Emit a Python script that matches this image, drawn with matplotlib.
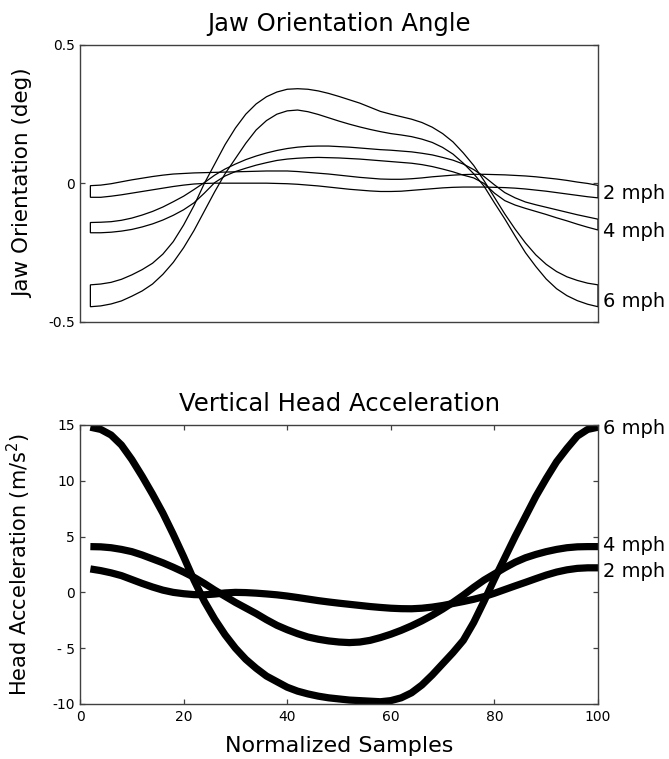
import numpy as np
from matplotlib import pyplot as plt

plt.rcParams['axes.unicode_minus'] = False
plt.rcParams['font.family'] = 'DejaVu Sans'

samples = list(range(2, 101, 2))

# jaw orientation bands (deg): upper / lower edge for each speed
jaw_2_hi = [-0.008, -0.006, -0.001, 0.006, 0.013, 0.019, 0.025, 0.030, 0.034, 0.036,
            0.038, 0.039, 0.040, 0.041, 0.042, 0.043, 0.044, 0.045, 0.045, 0.045,
            0.043, 0.040, 0.037, 0.034, 0.030, 0.026, 0.022, 0.019, 0.016, 0.015,
            0.015, 0.017, 0.020, 0.024, 0.027, 0.030, 0.032, 0.033, 0.033, 0.032,
            0.031, 0.029, 0.027, 0.024, 0.020, 0.016, 0.011, 0.005, 0.000, -0.007]
jaw_2_lo = [-0.050, -0.050, -0.046, -0.041, -0.035, -0.029, -0.023, -0.017, -0.011, -0.006,
            -0.002, 0.000, 0.001, 0.001, 0.001, 0.001, 0.001, 0.001, 0.000, -0.001,
            -0.003, -0.006, -0.009, -0.013, -0.017, -0.021, -0.024, -0.027, -0.029, -0.029,
            -0.028, -0.025, -0.022, -0.019, -0.016, -0.014, -0.013, -0.013, -0.013, -0.014,
            -0.015, -0.017, -0.020, -0.024, -0.028, -0.033, -0.038, -0.043, -0.048, -0.052]
jaw_4_hi = [-0.141, -0.140, -0.138, -0.133, -0.125, -0.114, -0.101, -0.085, -0.066, -0.046,
            -0.022, 0.003, 0.030, 0.052, 0.070, 0.086, 0.099, 0.110, 0.119, 0.126,
            0.131, 0.134, 0.135, 0.135, 0.133, 0.131, 0.128, 0.125, 0.122, 0.120,
            0.117, 0.114, 0.109, 0.103, 0.094, 0.084, 0.070, 0.050, 0.025, -0.005,
            -0.033, -0.052, -0.067, -0.077, -0.086, -0.095, -0.104, -0.113, -0.121, -0.129]
jaw_4_lo = [-0.178, -0.178, -0.176, -0.172, -0.166, -0.157, -0.146, -0.132, -0.115, -0.095,
            -0.070, -0.035, 0.003, 0.027, 0.043, 0.055, 0.066, 0.075, 0.083, 0.088,
            0.091, 0.093, 0.094, 0.093, 0.092, 0.090, 0.088, 0.085, 0.082, 0.079,
            0.076, 0.073, 0.068, 0.061, 0.052, 0.042, 0.030, 0.020, 0.000, -0.035,
            -0.062, -0.078, -0.090, -0.101, -0.112, -0.124, -0.135, -0.147, -0.158, -0.168]
jaw_6_hi = [-0.366, -0.363, -0.357, -0.346, -0.330, -0.311, -0.288, -0.255, -0.210, -0.150,
            -0.080, 0.000, 0.070, 0.140, 0.200, 0.250, 0.287, 0.313, 0.330, 0.340,
            0.342, 0.340, 0.334, 0.325, 0.314, 0.302, 0.290, 0.275, 0.260, 0.250,
            0.241, 0.232, 0.220, 0.203, 0.180, 0.150, 0.110, 0.065, 0.010, -0.050,
            -0.110, -0.165, -0.215, -0.258, -0.292, -0.318, -0.337, -0.350, -0.360, -0.366]
jaw_6_lo = [-0.445, -0.442, -0.435, -0.424, -0.407, -0.388, -0.363, -0.328, -0.285, -0.232,
            -0.170, -0.100, -0.030, 0.035, 0.090, 0.145, 0.193, 0.227, 0.250, 0.262,
            0.265, 0.259, 0.249, 0.237, 0.225, 0.214, 0.204, 0.195, 0.187, 0.180,
            0.175, 0.169, 0.160, 0.148, 0.130, 0.106, 0.073, 0.035, -0.010, -0.070,
            -0.128, -0.190, -0.250, -0.300, -0.345, -0.380, -0.405, -0.423, -0.436, -0.445]

# vertical head acceleration (m/s^2)
acc_2 = [2.1, 1.95, 1.75, 1.5, 1.15, 0.8, 0.48, 0.2, 0.0, -0.12,
         -0.2, -0.22, -0.15, -0.05, 0.0, -0.02, -0.07, -0.14, -0.22, -0.33,
         -0.46, -0.6, -0.74, -0.86, -0.97, -1.07, -1.17, -1.27, -1.35, -1.42,
         -1.46, -1.47, -1.42, -1.32, -1.18, -1.0, -0.82, -0.62, -0.38, -0.08,
         0.25, 0.58, 0.9, 1.23, 1.55, 1.82, 2.02, 2.15, 2.2, 2.2]
acc_4 = [4.1, 4.08, 4.0, 3.85, 3.65, 3.35, 3.0, 2.65, 2.25, 1.82,
         1.35, 0.8, 0.2, -0.35, -0.9, -1.4, -1.9, -2.45, -2.95, -3.35,
         -3.7, -4.0, -4.2, -4.35, -4.45, -4.5, -4.45, -4.3, -4.05, -3.75,
         -3.4, -3.0, -2.55, -2.05, -1.5, -0.9, -0.25, 0.45, 1.1, 1.65,
         2.2, 2.7, 3.1, 3.4, 3.65, 3.85, 4.0, 4.08, 4.1, 4.1]
acc_6 = [14.8, 14.6, 14.1, 13.2, 11.9, 10.4, 8.8, 7.1, 5.2, 3.2,
         1.1, -0.8, -2.4, -3.8, -5.0, -6.0, -6.8, -7.5, -8.0, -8.5,
         -8.85, -9.1, -9.3, -9.45, -9.55, -9.65, -9.7, -9.75, -9.8, -9.7,
         -9.45, -9.0, -8.3, -7.4, -6.4, -5.4, -4.3, -2.7, -0.8, 1.2,
         3.1, 5.0, 6.8, 8.6, 10.2, 11.7, 12.9, 14.0, 14.6, 14.8]

speed_labels = ['2 mph', '4 mph', '6 mph']
jaw_label_y = [-0.037, -0.174, -0.427]
acc_label_y = [1.9, 4.16, 14.7]

jaw_yticks = [-0.5, 0, 0.5]
jaw_yticklabels = ['-0.5', '0', '0.5']
acc_yticks = [-10, -5, 0, 5, 10, 15]
acc_yticklabels = ['-10', '- 5', '0', '5', '10', '15']
acc_xticks = [0, 20, 40, 60, 80, 100]

spine_col = '0.25'

fig = plt.figure(figsize=(6.69, 7.59), dpi=100)
ax1 = fig.add_axes([0.1196, 0.5758, 0.7743, 0.3650])
ax2 = fig.add_axes([0.1196, 0.0725, 0.7743, 0.3676])

# --- top: jaw orientation bands (outline only, capped at the start)
x = np.array(samples)
for hi, lo in [(jaw_2_hi, jaw_2_lo), (jaw_4_hi, jaw_4_lo), (jaw_6_hi, jaw_6_lo)]:
    px = np.concatenate([x, x[::-1]])
    py = np.concatenate([hi, lo[::-1]])
    ax1.fill(px, py, facecolor='none', edgecolor='black', linewidth=0.9, closed=True)

ax1.set_xlim(0, 100)
ax1.set_ylim(-0.5, 0.5)
ax1.set_xticks([])
ax1.set_yticks(jaw_yticks)
ax1.set_yticklabels(jaw_yticklabels)
ax1.set_title('Jaw Orientation Angle', fontsize=17.5, pad=10)
ax1.set_ylabel('Jaw Orientation (deg)', fontsize=15.5)
ax1.yaxis.set_label_coords(-0.091, 0.5)
for txt, yy in zip(speed_labels, jaw_label_y):
    ax1.text(101, yy, txt, fontsize=14, va='center', ha='left', clip_on=False)

# --- bottom: head acceleration
for yy in [acc_6, acc_4, acc_2]:
    ax2.plot(samples, yy, color='black', linewidth=5.2, solid_capstyle='butt', solid_joinstyle='round')

ax2.set_xlim(0, 100)
ax2.set_ylim(-10, 15)
ax2.set_xticks(acc_xticks)
ax2.set_yticks(acc_yticks)
ax2.set_yticklabels(acc_yticklabels)
ax2.set_title('Vertical Head Acceleration', fontsize=17.5, pad=10)
ax2.set_ylabel('Head Acceleration (m/s$^2$)', fontsize=15)
ax2.yaxis.set_label_coords(-0.091, 0.5)
ax2.set_xlabel('Normalized Samples', fontsize=16)
ax2.xaxis.set_label_coords(0.5, -0.115)
for txt, yy in zip(speed_labels, acc_label_y):
    ax2.text(101, yy, txt, fontsize=14, va='center', ha='left', clip_on=False)

for ax in (ax1, ax2):
    for s in ax.spines.values():
        s.set_color(spine_col)
        s.set_linewidth(1.0)
    ax.tick_params(direction='in', length=3.6, width=0.9, color=spine_col,
                   labelsize=10, top=True, right=True)
ax2.tick_params(axis='x', pad=4.5)

fig.savefig('out.png', dpi=100)
